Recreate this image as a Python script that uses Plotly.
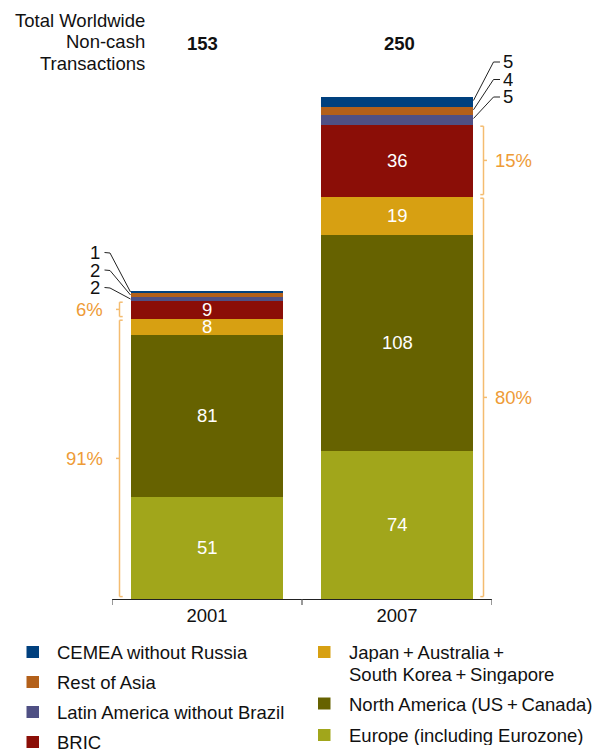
import plotly.graph_objects as go

# ---- data -------------------------------------------------------------
years = ["2001", "2007"]
totals = [153, 250]

europe = [51, 74]
north_america = [81, 108]
japan_aus = [8, 19]
bric = [9, 36]
latam = [2, 5]
rest_asia = [2, 4]
cemea = [1, 5]

share_mature = ["91%", "80%"]   # Europe + North America + Japan group
share_bric = ["6%", "15%"]

series_names = [
    "Europe (including Eurozone)",
    "North America (US\u2009+\u2009Canada)",
    "Japan\u2009+\u2009Australia\u2009+\nSouth Korea\u2009+\u2009Singapore",
    "BRIC",
    "Latin America without Brazil",
    "Rest of Asia",
    "CEMEA without Russia",
]
series_values = [europe, north_america, japan_aus, bric, latam, rest_asia, cemea]
series_colors = ["#A1A61B", "#666200", "#D7A012", "#8B0E07",
                 "#4F5084", "#B3601A", "#00407E"]

# ---- geometry ---------------------------------------------------------
W, H = 592, 751
L, R, T, B = 112, 100, 91, 152
PW, PH = W - L - R, H - T - B
YMAX = 254
XMIN, XMAX = -0.5, 1.5
BARGAP = 0.195
HALF = (1 - BARGAP) / 2

FONT = "Liberation Sans, Arial, Helvetica, sans-serif"
FS = 18.5
INK = "#111111"
ORANGE_TXT = "#EE9B36"
ORANGE_LINE = "#F4BC70"


def xp(px):
    """pixel x -> paper x"""
    return (px - L) / PW


def yp(py):
    """pixel y -> paper y"""
    return (H - B - py) / PH


def xv(x):
    """category-axis value -> paper x"""
    return (x - XMIN) / (XMAX - XMIN)


def yv(y):
    """value-axis value -> paper y"""
    return y / YMAX


fig = go.Figure()
for name, vals, col in zip(series_names, series_values, series_colors):
    fig.add_trace(go.Bar(
        x=[0, 1], y=vals, name=name.replace("\n", " "),
        marker=dict(color=col, line=dict(width=0)),
        showlegend=False, hoverinfo="name+y",
    ))

annotations = []
shapes = []

# cumulative bases of each segment
bases = []
run = [0, 0]
for vals in series_values:
    bases.append(list(run))
    run = [run[i] + vals[i] for i in range(2)]

# ---- values inside the large segments ------------------------------------
for k in range(4):
    for i in range(2):
        v = series_values[k][i]
        annotations.append(dict(
            x=i, y=bases[k][i] + v / 2, xref="x", yref="y",
            text=str(v), showarrow=False, height=16, valign="middle",
            font=dict(family=FONT, size=FS, color="white"),
            xanchor="center", yanchor="middle", yshift=1,
        ))

# ---- small segments: labels with leader lines ------------------------------
small_idx = [6, 5, 4]  # top to bottom: CEMEA, Rest of Asia, Latin America
lab_y_2001 = [252, 269.5, 287]
lab_y_2007 = [61, 78.5, 96]
lead = dict(color="#222222", width=1)
for j, k in enumerate(small_idx):
    # 2001: labels on the left of the bar
    v = series_values[k][0]
    mid = bases[k][0] + v / 2
    ly = lab_y_2001[j]
    annotations.append(dict(
        x=xp(102), y=yp(ly), xref="paper", yref="paper", text=str(v),
        showarrow=False, xanchor="right", yanchor="middle",
        height=16, valign="middle",
        font=dict(family=FONT, size=FS, color=INK),
    ))
    shapes.append(dict(type="line", xref="paper", yref="paper",
                       x0=xp(104.5), y0=yp(ly + 0.5), x1=xp(110), y1=yp(ly + 1),
                       line=lead))
    shapes.append(dict(type="line", xref="paper", yref="paper",
                       x0=xp(110), y0=yp(ly + 1), x1=xv(0 - HALF), y1=yv(mid),
                       line=lead))
    # 2007: labels on the right of the bar
    v = series_values[k][1]
    mid = bases[k][1] + v * 0.65
    ly = lab_y_2007[j]
    annotations.append(dict(
        x=xp(500.5), y=yp(ly), xref="paper", yref="paper", text=str(v),
        showarrow=False, xanchor="left", yanchor="middle",
        height=16, valign="middle",
        font=dict(family=FONT, size=FS, color=INK),
    ))
    shapes.append(dict(type="line", xref="paper", yref="paper",
                       x0=xp(493.5), y0=yp(ly + 1), x1=xp(500), y1=yp(ly + 1),
                       line=lead))
    shapes.append(dict(type="line", xref="paper", yref="paper",
                       x0=xp(493.5), y0=yp(ly + 1), x1=xv(1 + HALF), y1=yv(mid),
                       line=lead))


# ---- share brackets -----------------------------------------------------
def bracket(lo, hi, side, label):
    """side=-1: bracket left of 2001 bar; side=+1: right of 2007 bar"""
    if side < 0:
        vx, cap, tick, tx, anchor = 119.5, 122.7, 116, 104.5, "right"
    else:
        vx, cap, tick, tx, anchor = 483.5, 480.3, 487, 493, "left"
    y0, y1 = lo + 1.2, hi - 0.6
    ym = (y0 + y1) / 2
    ln = dict(color=ORANGE_LINE, width=1.5)
    shapes.append(dict(type="line", xref="paper", yref="y",
                       x0=xp(vx), x1=xp(vx), y0=y0, y1=y1, line=ln))
    for yy in (y0, y1):
        shapes.append(dict(type="line", xref="paper", yref="y",
                           x0=xp(vx), x1=xp(cap), y0=yy, y1=yy, line=ln))
    shapes.append(dict(type="line", xref="paper", yref="y",
                       x0=xp(vx), x1=xp(tick), y0=ym, y1=ym, line=ln))
    annotations.append(dict(
        x=xp(tx), y=ym, xref="paper", yref="y", text=label, showarrow=False,
        xanchor=anchor, yanchor="middle",
        font=dict(family=FONT, size=FS, color=ORANGE_TXT),
    ))


mature_top = [europe[i] + north_america[i] + japan_aus[i] for i in range(2)]
bracket(0, mature_top[0], -1, share_mature[0])
bracket(mature_top[0], mature_top[0] + bric[0], -1, share_bric[0])
bracket(0, mature_top[1], +1, share_mature[1])
bracket(mature_top[1], mature_top[1] + bric[1], +1, share_bric[1])

# ---- header ---------------------------------------------------------------
for txt, py in zip(["Total Worldwide", "Non-cash", "Transactions"], [20, 42, 63.5]):
    annotations.append(dict(
        x=xp(147), y=yp(py), xref="paper", yref="paper", text=txt,
        showarrow=False, xanchor="right", yanchor="middle",
        font=dict(family=FONT, size=FS, color=INK),
    ))
for i, (tot, px) in enumerate(zip(totals, [202.5, 399])):
    annotations.append(dict(
        x=xp(px), y=yp(43.5), xref="paper", yref="paper",
        text="<b>%d</b>" % tot, showarrow=False,
        xanchor="center", yanchor="middle",
        font=dict(family=FONT, size=FS, color=INK),
    ))

# ---- legend (two columns) ----------------------------------------------
legend_layout = [
    # (series index, marker x, row y)
    (6, 26.5, 652), (5, 26.5, 682), (4, 26.5, 712), (3, 26.5, 742),
    (2, 318, 652), (1, 318, 703.5), (0, 318, 735),
]
for k, mx, ry in legend_layout:
    shapes.append(dict(type="rect", xref="paper", yref="paper",
                       x0=xp(mx), x1=xp(mx + 12.5), y0=yp(ry - 6), y1=yp(ry + 6),
                       fillcolor=series_colors[k], line=dict(width=0)))
    for n, line in enumerate(series_names[k].split("\n")):
        annotations.append(dict(
            x=xp(mx + 28.5), y=yp(ry + n * 21.7), xref="paper", yref="paper",
            text=line, showarrow=False, xanchor="left", yanchor="middle",
            height=20, valign="middle",
            font=dict(family=FONT, size=FS, color=INK),
        ))

fig.update_layout(
    width=W, height=H,
    margin=dict(l=L, r=R, t=T, b=B, pad=0),
    barmode="stack", bargap=BARGAP,
    plot_bgcolor="white", paper_bgcolor="white",
    font=dict(family=FONT, size=FS, color=INK),
    xaxis=dict(
        type="linear", range=[XMIN, XMAX],
        tickmode="array", tickvals=[0, 1], ticktext=years,
        showline=True, linecolor="#222222", linewidth=1,
        ticks="", showgrid=False, zeroline=False,
        tickfont=dict(family=FONT, size=FS, color=INK),
        fixedrange=True,
    ),
    yaxis=dict(range=[0, YMAX], visible=False, fixedrange=True),
    annotations=annotations,
    shapes=shapes,
)

# boundary ticks under the category axis
for bx in (-0.5, 0.5, 1.5):
    fig.add_shape(type="line", xref="x", yref="paper", x0=bx, x1=bx,
                  y0=0, y1=-6 / PH, line=dict(color="#555555", width=1.2))

fig.write_html("out.html")
